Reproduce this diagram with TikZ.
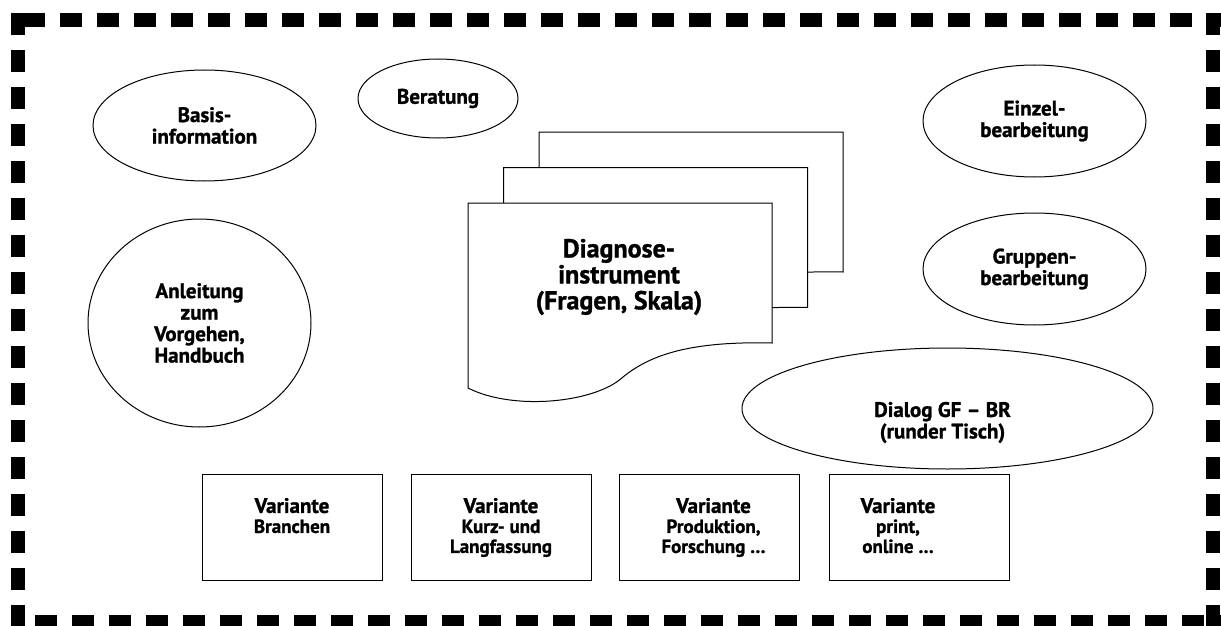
\documentclass[tikz,border=0pt]{standalone}
\usepackage{fontspec}
\setmainfont{PT Sans}[BoldFeatures={FakeBold=1.2}]
\usetikzlibrary{shapes.geometric}

\begin{document}
\begin{tikzpicture}[x=1pt,y=-1pt,line width=1pt,
	txt/.style={font=\bfseries\fontsize{21}{21.5}\selectfont,align=center},
	oval/.style={draw,ellipse,inner sep=0pt,txt},
	frameline/.style={line width=14pt,dash pattern=on 22pt off 15pt},
	variante/.style={draw,rectangle,minimum width=180pt,minimum height=106pt,inner sep=0pt},
	vtext/.style={anchor=north,yshift=-24pt,inner sep=0pt,align=center,font=\bfseries\fontsize{19}{20}\selectfont},
	sheet/.pic={\draw[fill=white] (0,0) -- (304,0) -- (304,140) .. controls (222,138) and (182,152) .. (155,174) .. controls (127,200) and (45,208) .. (0,185) -- cycle;}]
	\useasboundingbox (0,0) rectangle (1221,626);
	% dashed frame
	\draw[frameline] (23,20) -- (1235,20);
	\draw[frameline] (35,622) -- (1235,622);
	\draw[frameline] (17.5,13) -- (17.5,640);
	\draw[frameline] (1213,13) -- (1213,640);
	% ovals
	\node[oval,minimum width=223pt,minimum height=111pt] (basis) at (204.5,125.5) {Basis-\\information};
	\node[oval,minimum width=160pt,minimum height=79pt] (beratung) at (438,98.5) {Beratung};
	\node[oval,minimum width=223pt,minimum height=208pt] (anleitung) at (199.5,323) {Anleitung\\zum\\Vorgehen,\\Handbuch};
	\node[oval,minimum width=223pt,minimum height=112pt] (einzel) at (1034.5,121) {Einzel-\\bearbeitung};
	\node[oval,minimum width=223pt,minimum height=112pt] (gruppen) at (1034.5,269) {Gruppen-\\bearbeitung};
	\node[oval,minimum width=411pt,minimum height=121pt,label={[txt,xshift=-5pt,yshift=-14pt]center:{Dialog GF -- BR\\(runder Tisch)}}] (dialog) at (947.5,408.5) {};
	% stacked sheets
	\pic at (539,132) {sheet};
	\pic at (503.5,167.5) {sheet};
	\pic at (468,203) {sheet};
	\node[txt,font=\bfseries\fontsize{26}{26}\selectfont] (diag) at (619,277) {Diagnose-\\instrument\\(Fragen, Skala)};
	% variants
	\node[variante,label={[vtext]north:{{\fontsize{21}{21}\selectfont Variante}\\Branchen}}] (branchen) at (292,527) {};
	\node[variante,label={[vtext]north:{{\fontsize{21}{21}\selectfont Variante}\\Kurz- und\\Langfassung}}] (kurzlang) at (501,527) {};
	\node[variante,label={[vtext,xshift=4pt]north:{{\fontsize{21}{21}\selectfont Variante}\\Produktion,\\Forschung \dots}}] (produktion) at (709.5,527) {};
	\node[variante,label={[vtext,xshift=-21pt]north:{{\fontsize{21}{21}\selectfont Variante}\\print,\\online \dots}}] (print) at (919,527) {};
\end{tikzpicture}
\end{document}
